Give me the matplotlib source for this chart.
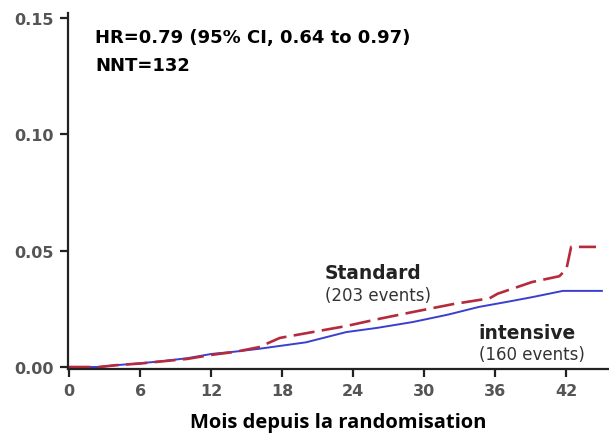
import matplotlib
matplotlib.use("Agg")
import matplotlib.pyplot as plt

# cumulative incidence, standard arm
months_std = [0, 2.5, 4, 6, 8, 10, 12, 14, 16, 17.8, 20, 23.4, 26, 29, 32.4,
              35.5, 36.2, 39.1, 41.4, 42.0, 42.4, 44.5]
risk_std = [0, 0, 0.0008, 0.0015, 0.0025, 0.0035, 0.0052, 0.0065, 0.0085, 0.0125,
            0.0145, 0.0176, 0.0205, 0.0236, 0.027, 0.0295, 0.0315, 0.0365, 0.039,
            0.042, 0.0516, 0.0516]

# cumulative incidence, intensive arm
months_int = [0, 2.5, 4, 6, 8, 10, 12, 14, 16, 18, 20, 23.4, 26, 29, 32, 34.6,
              37, 39.1, 41.7, 45]
risk_int = [0, 0, 0.0008, 0.0016, 0.0026, 0.0038, 0.0056, 0.0066, 0.0078, 0.0092,
            0.0106, 0.015, 0.0168, 0.0193, 0.0225, 0.0258, 0.028, 0.030, 0.0327,
            0.0327]

x_ticks = [0, 6, 12, 18, 24, 30, 36, 42]
y_ticks = [0.00, 0.05, 0.10, 0.15]

plt.rcParams["font.family"] = "DejaVu Sans"

fig = plt.figure(figsize=(6.09, 4.35), dpi=100)
ax = fig.add_axes([0.1117, 0.1494, 0.8883, 0.818])

ax.plot(months_int, risk_int, color="#3a3fcf", linewidth=1.4)
ax.plot(months_std, risk_std, color="#b52a3c", linewidth=1.9,
        dashes=(8, 2.8))

ax.set_xlim(-0.1, 45.6)
ax.set_ylim(-0.00086, 0.152)
ax.set_xticks(x_ticks)
ax.set_yticks(y_ticks)
ax.set_yticklabels([f"{v:.2f}" for v in y_ticks])

for s in ["top", "right"]:
    ax.spines[s].set_visible(False)
for s in ["left", "bottom"]:
    ax.spines[s].set_linewidth(1.6)
    ax.spines[s].set_color("#222222")

ax.tick_params(axis="both", direction="out", length=6, width=1.6,
               color="#222222", labelsize=11.5, labelcolor="#555555", pad=4)
for lab in ax.get_xticklabels() + ax.get_yticklabels():
    lab.set_fontweight("bold")

ax.set_xlabel("Mois depuis la randomisation", fontsize=14.5, fontweight="bold",
              family="Open Sans", color="black", labelpad=10)

txt = dict(va="center", ha="left")
ax.text(2.19, 0.1419, "HR=0.79 (95% CI, 0.64 to 0.97)", fontsize=13,
        fontweight="bold", **txt)
ax.text(2.19, 0.1298, "NNT=132", fontsize=13, fontweight="bold", **txt)

ax.text(21.6, 0.0408, "Standard", fontsize=13.4, fontweight="bold",
        color="#222222", **txt)
ax.text(21.6, 0.0310, "(203 events)", fontsize=12, color="#333333", **txt)
ax.text(34.6, 0.0150, "intensive", fontsize=13.4, fontweight="bold",
        color="#222222", **txt)
ax.text(34.6, 0.0056, "(160 events)", fontsize=12, color="#333333", **txt)

fig.savefig("out.png", dpi=100)
